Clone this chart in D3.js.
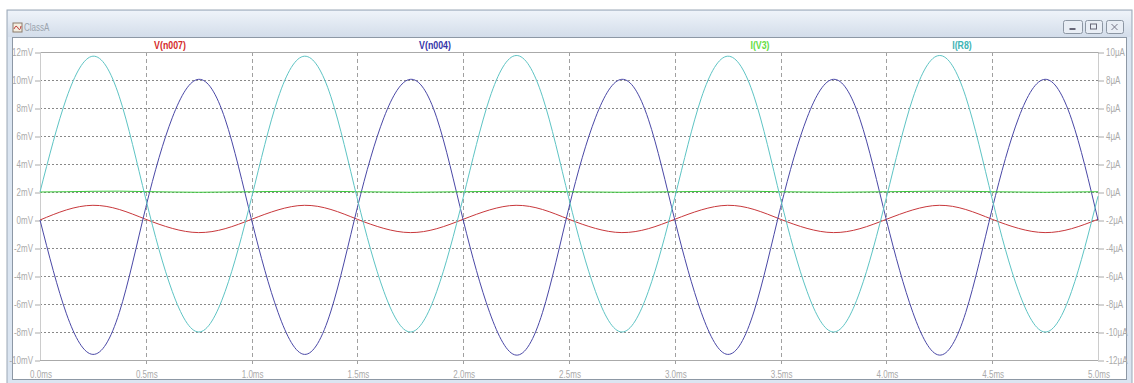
<!DOCTYPE html>
<html>
<head>
  <script src="https://cdn.jsdelivr.net/npm/d3@7"></script>
  <style>
    body { margin: 0; background: #fff; }
    text { font-family: "Liberation Sans", Arial, sans-serif; }
  </style>
</head>
<body>
  <script>

  var width = 1134
  var height = 383

  // sample times (ms), one every 1/8 ms
  var times = d3.range(0, 5.0001, 0.125);

  // values
  var vN004 = [ 0.0, -6.7, -9.6, -6.6,  0.9,  7.3, 10.05,  7.2,
                0.0, -6.6, -9.6, -6.5,  0.9,  7.3, 10.05,  7.3,
                0.0, -6.6, -9.65, -6.6, 0.9,  7.3, 10.05,  7.2,
                0.0, -6.6, -9.6, -6.5,  0.9,  7.3, 10.05,  7.2,
                0.0, -6.6, -9.65, -6.6, 0.8,  7.3, 10.05,  7.2,
                0.0 ];
  var vN007 = [ 0.0, 0.72, 1.05, 0.75, 0.05, -0.6, -0.9, -0.62,
                0.05, 0.72, 1.05, 0.75, 0.05, -0.6, -0.9, -0.62,
                0.05, 0.72, 1.05, 0.75, 0.05, -0.6, -0.9, -0.62,
                0.05, 0.72, 1.05, 0.75, 0.05, -0.6, -0.9, -0.62,
                0.05, 0.72, 1.05, 0.75, 0.05, -0.6, -0.9, -0.62,
                0.05 ];
  var iR8   = [ 0.0, 6.7, 9.7, 6.8, -0.5, -7.1, -10.0, -7.1,
               -0.4, 6.7, 9.7, 6.8, -0.5, -7.1, -10.0, -7.1,
               -0.4, 6.7, 9.75, 6.8, -0.5, -7.1, -10.0, -7.1,
               -0.4, 6.7, 9.7, 6.8, -0.5, -7.1, -10.0, -7.1,
               -0.4, 6.7, 9.75, 6.8, -0.5, -7.1, -10.0, -7.1,
               -0.3 ];
  var iV3   = [ 0.0, 0.02, 0.05, 0.06, 0.03, 0.0, -0.02, 0.0,
                0.02, 0.04, 0.06, 0.05, 0.02, 0.0, -0.02, 0.0,
                0.02, 0.04, 0.06, 0.05, 0.02, 0.0, -0.02, 0.0,
                0.02, 0.04, 0.06, 0.05, 0.02, 0.0, -0.02, 0.0,
                0.02, 0.04, 0.06, 0.05, 0.02, 0.0, -0.02, 0.0,
                0.02 ];

  var xTicks = [0, 0.5, 1, 1.5, 2, 2.5, 3, 3.5, 4, 4.5, 5];
  var mvTicks = [12, 10, 8, 6, 4, 2, 0, -2, -4, -6, -8, -10];
  var uaTicks = [10, 8, 6, 4, 2, 0, -2, -4, -6, -8, -10, -12];

  var traces = [
    {name: "V(n007)", values: vN007, axis: "mV", color: "#c8383c", label: "#d42a2a", lx: 170},
    {name: "V(n004)", values: vN004, axis: "mV", color: "#4a48a6", label: "#3535a8", lx: 435},
    {name: "I(V3)",   values: iV3,   axis: "uA", color: "#3cc83c", label: "#66dd44", lx: 760},
    {name: "I(R8)",   values: iR8,   axis: "uA", color: "#5ec4c4", label: "#3fb4b4", lx: 962}
  ];

  var pLeft = 40, pRight = 1098, pTop = 52, pBottom = 360;

  var x = d3.scaleLinear().domain([0, 5]).range([pLeft, pRight]);
  var yMv = d3.scaleLinear().domain([-10, 12]).range([pBottom, pTop]);
  var yUa = d3.scaleLinear().domain([-12, 10]).range([pBottom, pTop]);

  var svg = d3.select('body').append("svg")
    .attr("width", width)
    .attr("height", height);

  // ----- window frame
  var defs = svg.append("defs");
  var grad = defs.append("linearGradient").attr("id", "tb")
    .attr("x1", 0).attr("y1", 0).attr("x2", 0).attr("y2", 1);
  grad.append("stop").attr("offset", "0%").attr("stop-color", "#eef3f9");
  grad.append("stop").attr("offset", "100%").attr("stop-color", "#d3ddea");

  svg.append("rect").attr("x", 7).attr("y", 10).attr("width", 1125).attr("height", 380)
    .attr("fill", "#dbe5f1").attr("stroke", "#9ba7b5");
  svg.append("rect").attr("x", 8).attr("y", 11).attr("width", 1123).attr("height", 26)
    .attr("fill", "url(#tb)");
  svg.append("rect").attr("x", 12.5).attr("y", 37.5).attr("width", 1114).attr("height", 342)
    .attr("fill", "#fff").attr("stroke", "#8d98a5");

  // title icon + text
  var icon = svg.append("g").attr("transform", "translate(13,23)");
  icon.append("rect").attr("width", 9).attr("height", 9).attr("fill", "#f4eee0").attr("stroke", "#8a7a6a");
  icon.append("path").attr("d", "M1,6 Q3,1 5,5 T8,3").attr("fill", "none").attr("stroke", "#c04040");
  svg.append("text").attr("class", "narrow").attr("x", 24).attr("y", 31).attr("font-size", 10)
    .attr("fill", "#9aa3ad").text("ClassA");

  // window buttons
  [[1063, 19], [1085, 17], [1106, 17]].forEach(function(b, i) {
    var g = svg.append("g").attr("transform", "translate(" + b[0] + ",20)");
    g.append("rect").attr("x", 0.5).attr("y", 0.5).attr("width", b[1]).attr("height", 13).attr("rx", 2)
      .attr("fill", "#e9eef5").attr("stroke", "#8c96a3");
    var cx = b[1] / 2;
    if (i == 0) g.append("rect").attr("x", cx - 3).attr("y", 8).attr("width", 6).attr("height", 2).attr("fill", "#667");
    if (i == 1) g.append("rect").attr("x", cx - 3).attr("y", 4).attr("width", 6).attr("height", 5)
      .attr("fill", "none").attr("stroke", "#667");
    if (i == 2) g.append("path").attr("d", "M" + (cx - 3) + ",4L" + (cx + 3) + ",10M" + (cx + 3) + ",4L" + (cx - 3) + ",10")
      .attr("stroke", "#778").attr("fill", "none");
  });

  // ----- grid
  svg.append("g").selectAll("line")
    .data(mvTicks.slice(1, -1)).enter()
    .append("line")
    .attr("x1", pLeft).attr("x2", pRight)
    .attr("y1", function(d) { return Math.round(yMv(d)) + 0.5; })
    .attr("y2", function(d) { return Math.round(yMv(d)) + 0.5; })
    .attr("stroke", "#888").attr("stroke-dasharray", "2,2");

  svg.append("g").selectAll("line")
    .data(xTicks.slice(1, -1)).enter()
    .append("line")
    .attr("x1", function(d) { return Math.round(x(d)) + 0.5; })
    .attr("x2", function(d) { return Math.round(x(d)) + 0.5; })
    .attr("y1", pTop).attr("y2", pBottom + 4)
    .attr("stroke", "#a0a0a0").attr("stroke-dasharray", "4,3");

  // frame lines
  svg.append("line").attr("x1", pLeft).attr("x2", pRight).attr("y1", pTop + 0.5).attr("y2", pTop + 0.5).attr("stroke", "#aaa");
  svg.append("line").attr("x1", pLeft).attr("x2", pRight).attr("y1", pBottom + 0.5).attr("y2", pBottom + 0.5).attr("stroke", "#aaa");
  svg.append("line").attr("x1", pLeft + 0.5).attr("x2", pLeft + 0.5).attr("y1", pTop).attr("y2", pBottom).attr("stroke", "#ccc");
  svg.append("line").attr("x1", pRight + 0.5).attr("x2", pRight + 0.5).attr("y1", pTop).attr("y2", pBottom).attr("stroke", "#ccc");

  // ----- axes
  function styleAxis(g) {
    g.select(".domain").remove();
    g.selectAll(".tick line").attr("stroke", "#aaa");
    g.selectAll(".tick text").attr("class", "narrow").attr("fill", "#aaa").attr("font-size", 10)
      .attr("font-family", "Liberation Sans, Arial, sans-serif");
  }

  svg.append("g").attr("transform", "translate(" + pLeft + ",0.5)")
    .call(d3.axisLeft(yMv).tickValues(mvTicks).tickSize(5).tickPadding(2)
      .tickFormat(function(d) { return d + "mV"; }))
    .call(styleAxis);

  svg.append("g").attr("transform", "translate(" + pRight + ",0.5)")
    .call(d3.axisRight(yUa).tickValues(uaTicks).tickSize(6).tickPadding(2)
      .tickFormat(function(d) { return d + "\u00b5A"; }))
    .call(styleAxis);

  svg.append("g").attr("transform", "translate(0.5," + (pBottom + 3) + ")")
    .call(d3.axisBottom(x).tickValues(xTicks).tickSize(0).tickPadding(8)
      .tickFormat(function(d) { return d3.format(".1f")(d) + "ms"; }))
    .call(styleAxis);

  // ----- traces
  traces.forEach(function(tr) {
    var y = tr.axis == "mV" ? yMv : yUa;
    var line = d3.line()
      .x(function(d, i) { return x(times[i]); })
      .y(function(d) { return y(d); })
      .curve(d3.curveNatural);
    svg.append("path")
      .datum(tr.values)
      .attr("d", line)
      .attr("fill", "none")
      .attr("stroke", tr.color)
      .attr("stroke-width", 1);
  });

  // ----- trace labels
  svg.selectAll('.lbl')
    .data(traces).enter()
    .append("text")
    .attr("class", "lbl narrow")
    .attr("x", function(d) { return d.lx; })
    .attr("y", 49)
    .attr("text-anchor", "middle")
    .attr("font-size", 11)
    .attr("font-weight", "bold")
    .attr("fill", function(d) { return d.label; })
    .text(function(d) { return d.name; });

  // squeeze text horizontally, like the narrow font of the original
  svg.selectAll(".narrow").each(function() {
    var w = this.getComputedTextLength();
    d3.select(this).attr("textLength", (w * 0.8).toFixed(1)).attr("lengthAdjust", "spacingAndGlyphs");
  });

  </script>
</body>
</html>
